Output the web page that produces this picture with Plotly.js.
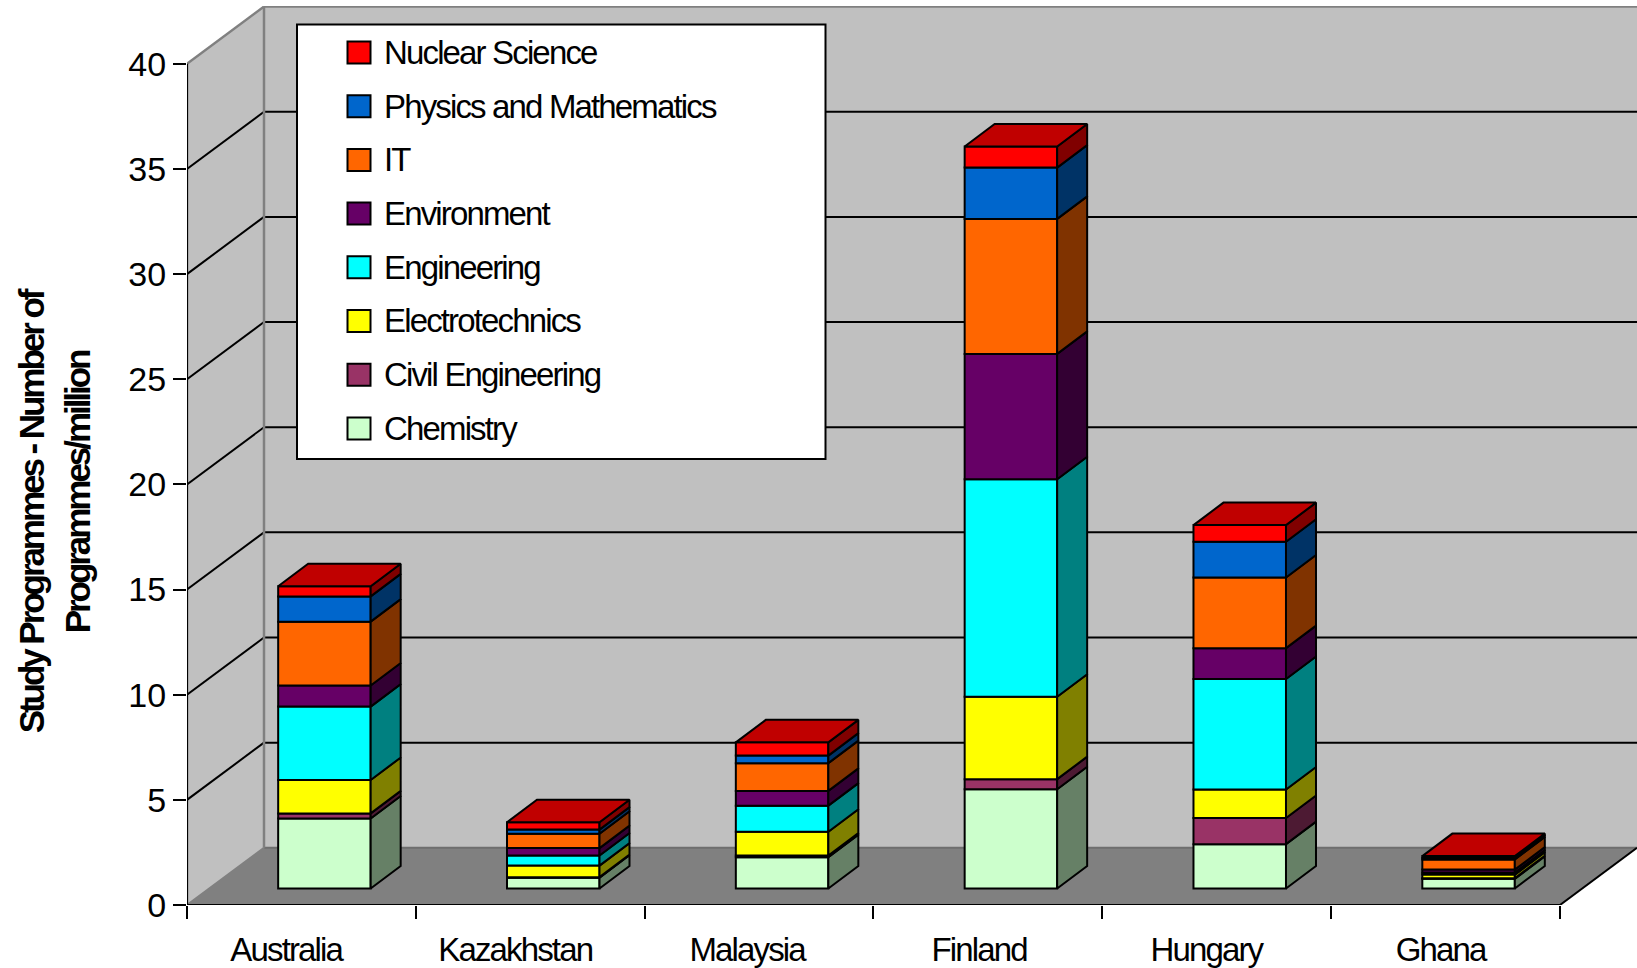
<!DOCTYPE html>
<html>
<head>
<meta charset="utf-8">
<script src="https://cdn.plot.ly/plotly-3.0.1.min.js"></script>
<style>
html,body{margin:0;padding:0;background:#fff;overflow:hidden}
#chart{width:1637px;height:968px}
.annotation text{letter-spacing:-1.85px}
.annotation[data-index="14"] text{letter-spacing:-3.05px}
</style>
</head>
<body>
<div id="chart"></div>
<script>
// ---------- data ----------
const categories = ["Australia","Kazakhstan","Malaysia","Finland","Hungary","Ghana"];
const seriesNames = ["Chemistry","Civil Engineering","Electrotechnics","Engineering","Environment","IT","Physics and Mathematics","Nuclear Science"];
const chemistry    = [3.33,0.51,1.49,4.72,2.11,0.46];
const civil        = [0.24,0.03,0.08,0.48,1.24,0.03];
const electro      = [1.59,0.55,1.13,3.92,1.36,0.17];
const engineering  = [3.49,0.48,1.24,10.34,5.25,0.10];
const environment  = [1.00,0.35,0.70,5.96,1.47,0.14];
const it           = [3.04,0.68,1.32,6.42,3.36,0.48];
const physics      = [1.20,0.20,0.36,2.44,1.70,0.08];
const nuclear      = [0.48,0.35,0.63,1.00,0.79,0.08];
const seriesValues = [chemistry,civil,electro,engineering,environment,it,physics,nuclear];
const yTicks = [0,5,10,15,20,25,30,35,40];

// ---------- styling ----------
const frontColors = ["#CCFFCC","#993366","#FFFF00","#00FFFF","#660066","#FF6600","#0066CC","#FF0000"];
const sideColors  = ["#668066","#4D1A33","#808000","#008080","#330033","#803300","#003366","#800000"];
const topColor = "#C00000";
const wallColor = "#C0C0C0", floorColor = "#808080", edgeGray = "#808080";

// ---------- layout geometry ----------
const W = 1637, H = 968, mL = 187, mT = 6, mB = 63;
const plotW = W - mL, plotH = H - mT - mB;
const xUnit = 228.83, yUnit = 21.03;                 // px per category, px per value
const xMin = -0.5, xMax = xMin + plotW / xUnit, yMax = plotH / yUnit;
const wallDx = 77 / xUnit, wallDy = 57.2 / yUnit;    // depth of the chart box
const barDx = 30 / xUnit, barDy = 22.5 / yUnit;      // depth of each bar
const barShift = 23 / xUnit, barLift = 16.5 / yUnit; // where a bar stands on the floor
const barWidth = 92.5 / xUnit;
const lineW = 2;
const edgeX = categories.length - 0.5;
const px = p => (p - mL) / plotW;                    // pixel to paper, horizontal
const py = p => 1 - (p - mT) / plotH;                // pixel to paper, vertical

// ---------- marks ----------
const xs = categories.map((_, i) => i + barShift);
const running = categories.map(() => barLift);
const barTraces = [], sideTraces = [];
seriesValues.forEach((vals, s) => {
  const base = running.slice();
  barTraces.push({
    type: "bar", name: seriesNames[s], x: xs, y: vals, base: base, width: barWidth,
    marker: {color: frontColors[s], line: {color: "#000", width: lineW}}, hoverinfo: "name+y"
  });
  const sx = [], sy = [];
  vals.forEach((v, i) => {
    const xr = xs[i] + barWidth / 2, y0 = base[i], y1 = base[i] + v;
    sx.push(xr, xr + barDx, xr + barDx, xr, xr, null);
    sy.push(y0, y0 + barDy, y1 + barDy, y1, y0, null);
    running[i] = y1;
  });
  sideTraces.push({
    type: "scatter", mode: "lines", x: sx, y: sy, fill: "toself", fillcolor: sideColors[s],
    line: {color: "#000", width: lineW}, hoverinfo: "skip", showlegend: false
  });
});
const tx = [], ty = [];
categories.forEach((_, i) => {
  const xl = xs[i] - barWidth / 2, xr = xs[i] + barWidth / 2, t = running[i];
  tx.push(xl, xr, xr + barDx, xl + barDx, xl, null);
  ty.push(t, t, t + barDy, t + barDy, t, null);
});
const topTrace = {
  type: "scatter", mode: "lines", x: tx, y: ty, fill: "toself", fillcolor: topColor,
  line: {color: "#000", width: lineW}, hoverinfo: "skip", showlegend: false
};

// ---------- chart box ----------
const poly = (pts, fill, line, width) => ({
  type: "path", xref: "x", yref: "y", layer: "below",
  path: "M" + pts.map(p => p.join(" ")).join("L") + "Z",
  fillcolor: fill, line: {color: line, width: width}
});
const seg = (x0, y0, x1, y1, color, width) => ({
  type: "line", xref: "x", yref: "y", layer: "below", x0, y0, x1, y1, line: {color, width}
});
const yTop = yTicks[yTicks.length - 1];
const shapes = [
  poly([[xMin+wallDx,wallDy],[xMax,wallDy],[xMax,yTop+wallDy],[xMin+wallDx,yTop+wallDy]], wallColor, wallColor, 0),
  poly([[xMin,0],[xMin+wallDx,wallDy],[xMin+wallDx,yTop+wallDy],[xMin,yTop]], wallColor, wallColor, 0),
  poly([[xMin,0],[edgeX,0],[xMax,wallDy],[xMin+wallDx,wallDy]], floorColor, floorColor, 0)
];
yTicks.slice(1, -1).forEach(v => {
  shapes.push(seg(xMin, v, xMin + wallDx, v + wallDy, "#000", 2));
  shapes.push(seg(xMin + wallDx, v + wallDy, xMax, v + wallDy, "#000", 2));
});
shapes.push(seg(xMin + wallDx, wallDy, xMax, wallDy, "#6E6E6E", 2));
shapes.push(seg(xMin + wallDx, yTop + wallDy, xMax, yTop + wallDy, edgeGray, 2.5));
shapes.push(seg(xMin + wallDx, wallDy, xMin + wallDx, yTop + wallDy, edgeGray, 2.5));
shapes.push(seg(xMin, yTop, xMin + wallDx, yTop + wallDy, edgeGray, 2.5));
shapes.push(seg(xMin, 0, xMin + wallDx, wallDy, edgeGray, 2));
shapes.push(seg(xMin, 0, xMin, yTop, "#000", 2.25));
shapes.push(seg(xMin, 0, edgeX, 0, "#000", 2.25));
shapes.push(seg(edgeX, 0, xMax, wallDy, "#000", 2));

// ---------- legend box ----------
const font = {family: "Liberation Sans, Arial, sans-serif", color: "#000"};
shapes.push({type: "rect", xref: "paper", yref: "paper", layer: "above",
  x0: px(297), x1: px(825.5), y0: py(459), y1: py(24.5),
  fillcolor: "#fff", line: {color: "#000", width: 2}});
const legendOrder = seriesNames.map((_, i) => seriesNames.length - 1 - i);
const annotations = [];
legendOrder.forEach((s, row) => {
  const cy = 52.5 + row * 53.7;
  shapes.push({type: "rect", xref: "paper", yref: "paper", layer: "above",
    x0: px(347.5), x1: px(370.5), y0: py(cy + 11), y1: py(cy - 11),
    fillcolor: frontColors[s], line: {color: "#000", width: 2}});
  annotations.push({xref: "paper", yref: "paper", x: px(382), y: py(cy), xanchor: "left", yanchor: "middle",
    align: "left", text: seriesNames[s], showarrow: false, font: {...font, size: 33}});
});

// ---------- category labels and axis title ----------
const labelShift = [-15, -15, -12, -9, -10, -5];
categories.forEach((c, i) => annotations.push({
  xref: "x", yref: "y", x: i, y: 0, xshift: labelShift[i], yshift: -44,
  xanchor: "center", yanchor: "middle", text: c, showarrow: false, font: {...font, size: 33}
}));
annotations.push({
  xref: "paper", yref: "paper", x: px(54), y: py(513), xanchor: "center", yanchor: "middle",
  textangle: -90, align: "center", showarrow: false,
  text: "Study Programmes - Number of<br>\u00a0\u00a0\u00a0\u00a0\u00a0\u00a0Programmes/million",
  font: {...font, size: 35, weight: 700}
});

const layout = {
  width: W, height: H, autosize: false, showlegend: false, barmode: "overlay", bargap: 0,
  margin: {l: mL, r: 0, t: mT, b: mB, pad: 0},
  paper_bgcolor: "#fff", plot_bgcolor: "#fff",
  xaxis: {type: "linear", range: [xMin, xMax], tickmode: "array",
    tickvals: categories.map((_, i) => i - 0.5).concat(edgeX), ticktext: categories.map(() => "").concat(""),
    ticks: "outside", ticklen: 13, tickwidth: 2, tickcolor: "#000",
    showgrid: false, zeroline: false, showline: false, fixedrange: true},
  yaxis: {type: "linear", range: [0, yMax], tickmode: "array", tickvals: yTicks, ticktext: yTicks.map(String),
    ticks: "outside", ticklen: 13, tickwidth: 2, tickcolor: "#000",
    tickfont: {...font, size: 34}, showgrid: false, zeroline: false, showline: false, fixedrange: true},
  shapes, annotations
};
Plotly.newPlot("chart", [...barTraces, ...sideTraces, topTrace], layout, {displayModeBar: false, staticPlot: true});
</script>
</body>
</html>
